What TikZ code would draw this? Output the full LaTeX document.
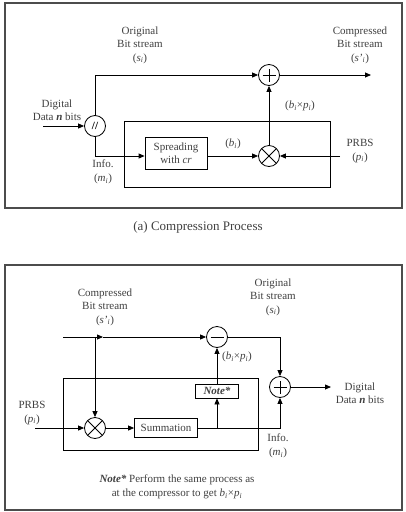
\documentclass[tikz,border=0pt]{standalone}
\usepackage{fontspec}
\setmainfont{Liberation Serif}
\usetikzlibrary{arrows.meta}
\tikzset{
  ln/.style={line width=0.8pt},
  arr/.style={ln,-{Triangle[length=6pt,width=5pt]}},
  op/.style={circle,draw,ln,minimum size=21pt,inner sep=0pt},
  plusop/.style={op,path picture={
      \draw[ln] (path picture bounding box.center) ++(-6.5pt,0pt) -- ++(13pt,0pt);
      \draw[ln] (path picture bounding box.center) ++(0pt,-6.5pt) -- ++(0pt,13pt);}},
  minusop/.style={op,path picture={
      \draw[ln] (path picture bounding box.center) ++(-6.5pt,0pt) -- ++(13pt,0pt);}},
  timesop/.style={op,path picture={
      \draw[ln] (path picture bounding box.center) ++(-7.5pt,-7.5pt) -- ++(15pt,15pt);
      \draw[ln] (path picture bounding box.center) ++(-7.5pt,7.5pt) -- ++(15pt,-15pt);}},
  blk/.style={draw,ln,align=center,inner sep=2pt,font=\fontsize{11}{13}\selectfont,text=black!75},
  lbl/.style={align=center,inner sep=0pt,font=\fontsize{11}{13.5}\selectfont,text=black!75},
  frame/.style={draw=black!70,line width=1.2pt},
}
\begin{document}
\begin{tikzpicture}[x=1pt,y=-1pt]
\useasboundingbox (0,0) rectangle (405,512);
\fill[white] (0,0) rectangle (405,512);

% ---------- (a) compression ----------
\draw[frame] (5,3) rectangle (402,208);
\draw[ln] (124,121) rectangle (330,187);

\node[op,font=\bfseries\fontsize{11}{11}\selectfont] (split) at (95,126) {//};
\node[plusop] (add1) at (269,75) {};
\node[timesop] (mul1) at (269,156) {};
\node[blk,minimum width=62pt,minimum height=32pt] (spread) at (176,153) {Spreading\\with \textit{cr}};
\coordinate (in1) at (43,126);
\coordinate (out1) at (371,75);
\coordinate (prbs1) at (340,156);

\draw[arr] (in1) -- (split);
\draw[arr] (split.north) |- (add1.west);
\draw[arr] (split.south) |- (spread.west |- mul1);
\draw[arr] (spread.east |- mul1) -- (mul1);
\draw[arr] (prbs1) -- (mul1);
\draw[arr] (mul1) -- (add1);
\draw[arr] (add1) -- (out1);

\node[lbl] (l1) at (57,110) {Digital\\Data \textbf{\textit{n}} bits};
\node[lbl] (l2) at (140,45) {Original\\Bit stream\\(\textit{s\textsubscript{i}})};
\node[lbl] (l3) at (360,45) {Compressed\\Bit stream\\(\textit{s'\textsubscript{i}})};
\node[lbl] (l4) at (300,106) {(\textit{b\textsubscript{i}}×\textit{p\textsubscript{i}})};
\node[lbl] (l5) at (233,144) {(\textit{b\textsubscript{i}})};
\node[lbl] (l6) at (360,151) {PRBS\\(\textit{p\textsubscript{i}})};
\node[lbl] (l7) at (103,172) {Info.\\(\textit{m\textsubscript{i}})};

\node[lbl,font=\fontsize{13}{15}\selectfont] (cap) at (198,227) {(a) Compression Process};

% ---------- (b) decompression ----------
\draw[frame] (5,265) rectangle (402,510);
\draw[ln] (63,378) rectangle (258,450);

\node[minusop] (sub) at (217,337) {};
\node[plusop] (add2) at (280,387) {};
\node[timesop] (mul2) at (95,428) {};
\node[blk,minimum width=63pt,minimum height=19pt] (sum) at (166,428) {Summation};
\node[blk,minimum width=43pt,minimum height=14pt,inner sep=1pt] (note) at (217,391) {\textbf{\textit{Note*}}};
\coordinate (in2) at (63,337);
\coordinate (mid2) at (103,337);
\coordinate (j2) at (95,337);
\coordinate (prbs2) at (35,428);
\coordinate (j3) at (217,428);
\coordinate (out2) at (331,387);

\draw[arr] (in2) -- (mid2);
\draw[arr] (mid2) -- (sub);
\draw[arr] (j2) -- (mul2);
\draw[arr] (prbs2) -- (mul2);
\draw[arr] (mul2) -- (sum);
\draw[arr] (sum.east) -| (add2.south);
\draw[arr] (j3) -- (note);
\draw[arr] (note) -- (sub);
\draw[arr] (sub) -| (add2.north);
\draw[arr] (add2) -- (out2);

\node[lbl] (m1) at (105,307) {Compressed\\Bit stream\\(\textit{s'\textsubscript{i}})};
\node[lbl] (m2) at (273,297) {Original\\Bit stream\\(\textit{s\textsubscript{i}})};
\node[lbl] (m3) at (237,357) {(\textit{b\textsubscript{i}}×\textit{p\textsubscript{i}})};
\node[lbl] (m4) at (360,393) {Digital\\Data \textbf{\textit{n}} bits};
\node[lbl] (m5) at (32,413) {PRBS\\(\textit{p\textsubscript{i}})};
\node[lbl] (m6) at (278,446) {Info.\\(\textit{m\textsubscript{i}})};
\node[lbl] (m7) at (177,487) {\textbf{\textit{Note*}} Perform the same process as\\at the compressor to get \textit{b\textsubscript{i}}×\textit{p\textsubscript{i}}};
\end{tikzpicture}
\end{document}
